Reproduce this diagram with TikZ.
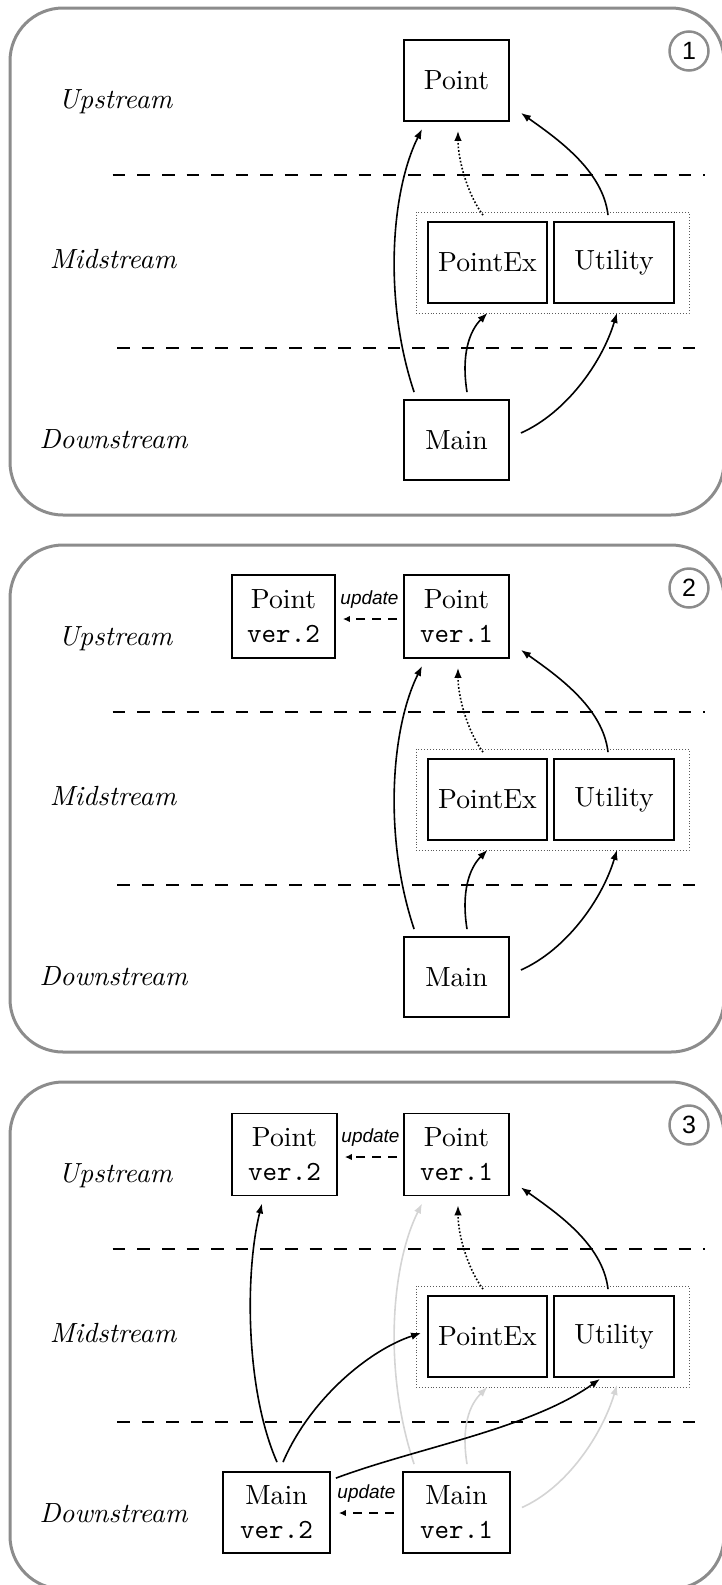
\documentclass[tikz,border=0pt]{standalone}
\usepackage{fontspec}
\usetikzlibrary{arrows.meta}
\setmainfont{lmroman10-regular.otf}[ItalicFont=lmroman10-italic.otf]
\setmonofont{lmmono10-regular.otf}
\newfontfamily\helvfam{Liberation Sans}
\definecolor{framegray}{RGB}{140,140,140}
\definecolor{fadegray}{RGB}{212,212,212}
\definecolor{groupgray}{RGB}{90,90,90}
\newcommand\diagboxfont{\fontsize{27.7}{34}\selectfont}
\newcommand\diagtierfont{\fontsize{27.7}{34}\selectfont\itshape}
\newcommand\diagupdfont{\helvfam\itshape\fontsize{19}{22}\selectfont}
\newcommand\diagstagefont{\helvfam\fontsize{25}{25}\selectfont}
\tikzset{
  frame/.style={draw=framegray, line width=3pt, rounded corners=53pt},
  sep/.style={line width=2.2pt, dash pattern=on 12.6pt off 12pt},
  box/.style={draw, line width=1.8pt, inner sep=0pt, minimum width=105pt,
    minimum height=81pt, align=center, font=\diagboxfont},
  group/.style={draw=groupgray, line width=0.9pt, dotted, inner sep=0pt,
    minimum width=273pt, minimum height=101pt},
  tier/.style={anchor=base, font=\diagtierfont},
  dep/.style={line width=1.6pt, -{Latex[length=10pt,width=7.5pt]}},
  faded/.style={dep, draw=fadegray},
  ext/.style={dep, dotted},
  upd/.style={line width=1.6pt, dash pattern=on 9pt off 7pt,
    -{Latex[length=7pt,width=6.5pt]}},
  updlabel/.style={font=\diagupdfont, yshift=19pt, inner sep=0pt},
  stage/.style={circle, draw=framegray, line width=2.5pt, minimum size=39pt,
    inner sep=0pt, font=\diagstagefont}
}
\begin{document}
\begin{tikzpicture}[x=1pt,y=-1pt]
\useasboundingbox (0,0) rectangle (722,1585);
\clip (0,0) rectangle (722,1585);

% ---------- stage 1 ----------
\begin{scope}
  \draw[frame] (10,8) rectangle (724,515);
  \node[stage] (s1) at (689,51) {1};
  \node[tier] (up1) at (115.5,108) {Upstream};
  \node[tier] (mid1) at (113,268) {Midstream};
  \node[tier] (down1) at (113.5,448) {Downstream};
  \draw[sep] (112.7,175) -- (705,175);
  \draw[sep] (117,348) -- (705,348);
  \node[group] (g1) at (552.5,262.5) {};
  \node[box] (p1) at (456.5,80.5) {Point};
  \node[box, minimum width=119pt] (x1) at (487.5,262.5) {PointEx};
  \node[box, minimum width=120pt] (u1) at (614,262.5) {Utility};
  \node[box, minimum height=80pt] (m1) at (456.5,440) {Main};
  \draw[dep] ([xshift=11pt,yshift=7pt]m1.north west) .. controls +(-31,-93) and +(-31,62) .. ([xshift=19pt,yshift=-7pt]p1.south west);
  \draw[dep] ([xshift=10.5pt,yshift=7pt]m1.north) .. controls +(-6,-38) and +(-18,18) .. ([yshift=-9pt]x1.south);
  \draw[dep] ([xshift=11pt,yshift=7pt]m1.east) .. controls +(45,-20) and +(-15,50) .. ([xshift=3pt,yshift=-9pt]u1.south);
  \draw[ext] ([xshift=-4.5pt,yshift=6pt]x1.north) .. controls +(-15,-20) and +(0,30) .. ([xshift=1.5pt,yshift=-9pt]p1.south);
  \draw[dep] ([xshift=-6pt,yshift=6pt]u1.north) .. controls +(-5,-45) and +(35,25) .. ([xshift=11pt,yshift=9pt]p1.south east);
\end{scope}

% ---------- stage 2 ----------
\begin{scope}[shift={(0,537)}]
  \draw[frame] (10,8) rectangle (724,515);
  \node[stage] (s2) at (689,51) {2};
  \node[tier] (up2) at (115.5,108) {Upstream};
  \node[tier] (mid2) at (113,268) {Midstream};
  \node[tier] (down2) at (113.5,448) {Downstream};
  \draw[sep] (112.7,175) -- (705,175);
  \draw[sep] (117,348) -- (705,348);
  \node[group] (g2) at (552.5,262.5) {};
  \node[box, minimum height=83pt] (p2a) at (456.5,79.5) {Point\\\texttt{ver.1}};
  \node[box, minimum width=103pt, minimum height=83pt] (p2b) at (283.5,79.5) {Point\\\texttt{ver.2}};
  \node[box, minimum width=119pt] (x2) at (487.5,262.5) {PointEx};
  \node[box, minimum width=120pt] (u2) at (614,262.5) {Utility};
  \node[box, minimum height=80pt] (m2) at (456.5,440) {Main};
  \draw[upd, shorten <=6pt, shorten >=7pt] ([yshift=-2.5pt]p2a.west) -- node[updlabel] {update} ([yshift=-2.5pt]p2b.east);
  \draw[dep] ([xshift=11pt,yshift=7pt]m2.north west) .. controls +(-31,-93) and +(-31,62) .. ([xshift=19pt,yshift=-7pt]p2a.south west);
  \draw[dep] ([xshift=10.5pt,yshift=7pt]m2.north) .. controls +(-6,-38) and +(-18,18) .. ([yshift=-9pt]x2.south);
  \draw[dep] ([xshift=11pt,yshift=7pt]m2.east) .. controls +(45,-20) and +(-15,50) .. ([xshift=3pt,yshift=-9pt]u2.south);
  \draw[ext] ([xshift=-4.5pt,yshift=6pt]x2.north) .. controls +(-15,-20) and +(0,30) .. ([xshift=1.5pt,yshift=-9pt]p2a.south);
  \draw[dep] ([xshift=-6pt,yshift=6pt]u2.north) .. controls +(-5,-45) and +(35,25) .. ([xshift=11pt,yshift=9pt]p2a.south east);
\end{scope}

% ---------- stage 3 ----------
\begin{scope}[shift={(0,1074)}]
  \draw[frame] (10,8) rectangle (724,515);
  \node[stage] (s3) at (689,51) {3};
  \node[tier] (up3) at (115.5,108) {Upstream};
  \node[tier] (mid3) at (113,268) {Midstream};
  \node[tier] (down3) at (113.5,448) {Downstream};
  \draw[sep] (112.7,175) -- (705,175);
  \draw[sep] (117,348) -- (705,348);
  \node[group] (g3) at (552.5,262.5) {};
  \node[box, minimum height=82pt] (p3a) at (456.5,80.5) {Point\\\texttt{ver.1}};
  \node[box, minimum height=82pt] (p3b) at (284.5,80.5) {Point\\\texttt{ver.2}};
  \node[box, minimum width=119pt] (x3) at (487.5,262.5) {PointEx};
  \node[box, minimum width=120pt] (u3) at (614,262.5) {Utility};
  \node[box, minimum width=107pt] (m3a) at (456.5,438.5) {Main\\\texttt{ver.1}};
  \node[box, minimum width=107pt] (m3b) at (276.5,438.5) {Main\\\texttt{ver.2}};
  \draw[upd, shorten <=6pt, shorten >=7pt] ([yshift=-2.5pt]p3a.west) -- node[updlabel] {update} ([yshift=-2.5pt]p3b.east);
  \draw[upd, shorten <=8pt, shorten >=8pt] ([yshift=-0.5pt]m3a.west) -- node[updlabel] {update} ([yshift=-0.5pt]m3b.east);
  % old dependencies of Main ver.1
  \draw[faded] ([xshift=12pt,yshift=7pt]m3a.north west) .. controls +(-31,-93) and +(-31,62) .. ([xshift=19pt,yshift=-7pt]p3a.south west);
  \draw[faded] ([xshift=10.5pt,yshift=7pt]m3a.north) .. controls +(-6,-38) and +(-18,18) .. ([yshift=-9pt]x3.south);
  \draw[faded] ([xshift=11pt,yshift=5pt]m3a.east) .. controls +(45,-20) and +(-15,50) .. ([xshift=3pt,yshift=-7pt]u3.south);
  % dependencies of Main ver.2
  \draw[dep] ([xshift=0.5pt,yshift=9pt]m3b.north) .. controls +(-32,-73) and +(-17,68) .. ([xshift=-22.5pt,yshift=-7pt]p3b.south);
  \draw[dep] ([xshift=6.5pt,yshift=9pt]m3b.north) .. controls +(27,-63) and +(-52,17) .. ([xshift=-6pt,yshift=3.5pt]x3.west);
  \draw[dep] ([xshift=5pt,yshift=-7pt]m3b.north east) .. controls +(80,-30) and +(-70,50) .. ([xshift=-14pt,yshift=-1pt]u3.south);
  \draw[ext] ([xshift=-4.5pt,yshift=6pt]x3.north) .. controls +(-15,-20) and +(0,30) .. ([xshift=1.5pt,yshift=-9pt]p3a.south);
  \draw[dep] ([xshift=-6pt,yshift=6pt]u3.north) .. controls +(-5,-45) and +(35,25) .. ([xshift=11pt,yshift=9pt]p3a.south east);
\end{scope}
\end{tikzpicture}
\end{document}
